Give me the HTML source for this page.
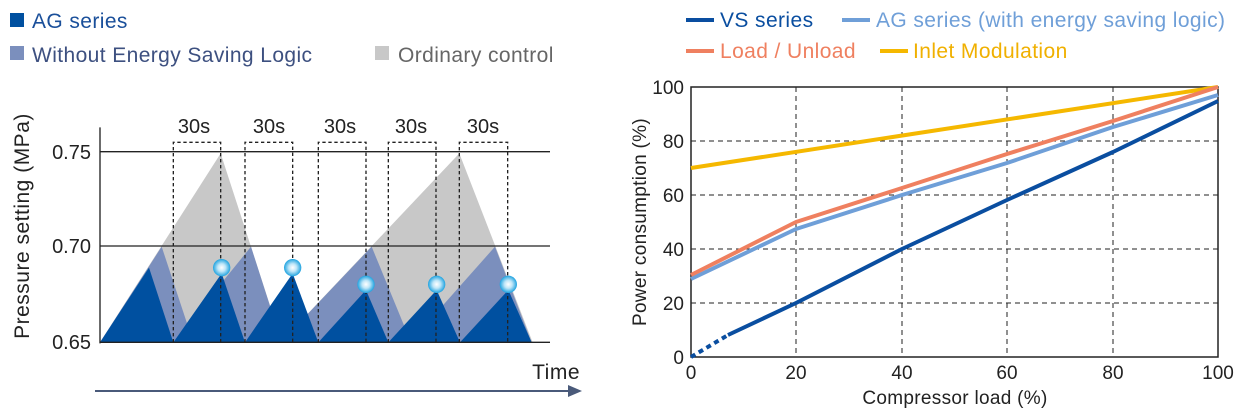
<!DOCTYPE html>
<html><head><style>
body{margin:0;background:#fff;}
svg{display:block;font-family:"Liberation Sans",sans-serif;}
</style></head><body>
<svg width="1250" height="420" viewBox="0 0 1250 420">
<defs>
<radialGradient id="bub" cx="50%" cy="50%" r="50%">
<stop offset="0" stop-color="#ffffff"/><stop offset="0.45" stop-color="#bfe6f8"/><stop offset="1" stop-color="#1fa3e0"/>
</radialGradient>
</defs>
<!-- left legend -->
<rect x="10" y="13" width="14" height="14" fill="#0050a0"/>
<text x="32" y="28" font-size="21" letter-spacing="0.4" fill="#1a4f9a">AG series</text>
<rect x="10" y="46" width="14" height="14" fill="#7b8fbd"/>
<text x="32" y="62" font-size="21" letter-spacing="0.4" fill="#3d5080">Without Energy Saving Logic</text>
<rect x="375" y="46" width="14" height="14" fill="#c8c8c8"/>
<text x="398" y="62" font-size="21" letter-spacing="0.4" fill="#666">Ordinary control</text>

<g transform="translate(90,110) scale(0.33333)">
<polygon points="30,697 392,130 576,697" fill="#c8c8c8"/>
<polygon points="572,697 1108,130 1328,697" fill="#c8c8c8"/>
<polygon points="30,697 215,410 310,697" fill="#7b8fbd"/>
<polygon points="250,697 483,410 575,697" fill="#7b8fbd"/>
<polygon points="572,697 845,410 963,697" fill="#7b8fbd"/>
<polygon points="960,697 1215,410 1325,697" fill="#7b8fbd"/>
<polygon points="30,697 177,473 250,697" fill="#0050a0"/>
<polygon points="250,697 395,490 465,697" fill="#0050a0"/>
<polygon points="465,697 608,490 685,697" fill="#0050a0"/>
<polygon points="685,697 828,540 895,697" fill="#0050a0"/>
<polygon points="895,697 1040,540 1110,697" fill="#0050a0"/>
<polygon points="1110,697 1255,540 1325,697" fill="#0050a0"/>
<g fill="none" stroke="#222" stroke-width="4" stroke-dasharray="10,8">
<polyline points="250,697 250,97 392,97 392,697"/>
<polyline points="465,697 465,97 608,97 608,697"/>
<polyline points="685,697 685,97 828,97 828,697"/>
<polyline points="895,697 895,97 1038,97 1038,697"/>
<polyline points="1108,697 1108,97 1253,97 1253,697"/>
</g>
<g stroke="#222" stroke-width="4">
<line x1="30" y1="125" x2="1380" y2="125"/>
<line x1="30" y1="408" x2="1380" y2="408"/>
<line x1="30" y1="697" x2="1380" y2="697"/>
<line x1="30" y1="52" x2="30" y2="700"/>
</g>
<g fill="url(#bub)">
<circle cx="395" cy="473" r="26"/><circle cx="608" cy="473" r="26"/>
<circle cx="828" cy="523" r="26"/><circle cx="1040" cy="523" r="26"/><circle cx="1255" cy="523" r="26"/>
</g>
</g>
<g font-size="20" fill="#222" text-anchor="middle">
<text x="194" y="133">30s</text><text x="269" y="133">30s</text><text x="340" y="133">30s</text><text x="411" y="133">30s</text><text x="483" y="133">30s</text>
</g>
<g font-size="20" fill="#222" text-anchor="end">
<text x="91" y="159">0.75</text><text x="91" y="253">0.70</text><text x="91" y="349">0.65</text>
</g>
<text transform="translate(29,226) rotate(-90)" font-size="21" letter-spacing="0.5" fill="#222" text-anchor="middle">Pressure setting (MPa)</text>
<text x="580" y="379" font-size="21" letter-spacing="0.5" fill="#222" text-anchor="end">Time</text>
<line x1="95" y1="391" x2="572" y2="391" stroke="#4a5a7a" stroke-width="2"/>
<polygon points="582,391 568,385 568,397" fill="#4a5a7a"/>

<!-- right legend -->
<g stroke-width="4">
<line x1="686" y1="20" x2="714" y2="20" stroke="#0a4ea0"/>
<line x1="842" y1="20" x2="870" y2="20" stroke="#6f9fd8"/>
<line x1="686" y1="51" x2="714" y2="51" stroke="#ef8060"/>
<line x1="880" y1="51" x2="908" y2="51" stroke="#f5b800"/>
</g>
<g font-size="21" letter-spacing="0.4">
<text x="720" y="27" fill="#0a4ea0">VS series</text>
<text x="876" y="27" fill="#6f9fd8">AG series (with energy saving logic)</text>
<text x="720" y="58" fill="#ef8060">Load / Unload</text>
<text x="913" y="58" fill="#f0b000">Inlet Modulation</text>
</g>
<!-- grid -->
<g stroke="#222" stroke-width="1" stroke-dasharray="5,4">
<line x1="691" y1="303" x2="1218" y2="303"/><line x1="691" y1="249" x2="1218" y2="249"/>
<line x1="691" y1="195" x2="1218" y2="195"/><line x1="691" y1="141" x2="1218" y2="141"/>
<line x1="796" y1="87" x2="796" y2="357"/><line x1="902" y1="87" x2="902" y2="357"/>
<line x1="1007" y1="87" x2="1007" y2="357"/><line x1="1113" y1="87" x2="1113" y2="357"/>
</g>
<rect x="691" y="87" width="527" height="270" fill="none" stroke="#222" stroke-width="1.5"/>
<g fill="none" stroke-width="4" stroke-linejoin="round">
<polyline stroke="#f5b800" points="691,168 1218,87"/>
<polyline stroke="#6f9fd8" points="691,279 796,229 902,195 1007,163 1113,127 1218,95"/>
<polyline stroke="#ef8060" points="691,275 796,222 902,188 1007,154 1113,121 1218,87"/>
<polyline stroke="#0a4ea0" points="728,335 796,303 902,249 1007,200 1113,152 1218,101"/>
<line stroke="#0a4ea0" x1="691" y1="357" x2="728" y2="335" stroke-dasharray="5,4"/>
</g>
<g font-size="19" fill="#222" text-anchor="end">
<text x="684" y="94">100</text><text x="684" y="148">80</text><text x="684" y="202">60</text>
<text x="684" y="256">40</text><text x="684" y="310">20</text><text x="684" y="364">0</text>
</g>
<g font-size="19" fill="#222" text-anchor="middle">
<text x="691" y="379">0</text><text x="796" y="379">20</text><text x="902" y="379">40</text>
<text x="1007" y="379">60</text><text x="1113" y="379">80</text><text x="1218" y="379">100</text>
</g>
<text x="955" y="404" font-size="19" letter-spacing="0.3" fill="#222" text-anchor="middle">Compressor load (%)</text>
<text transform="translate(646,222) rotate(-90)" font-size="19" letter-spacing="0.3" fill="#222" text-anchor="middle">Power consumption (%)</text>
</svg>
</body></html>
